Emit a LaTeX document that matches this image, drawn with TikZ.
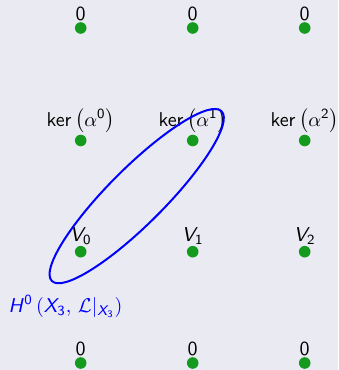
\documentclass[tikz,border=0pt]{standalone}
\usepackage{amsmath}
\usetikzlibrary{calc}
\DeclareMathAlphabet{\mathsfsl}{OT1}{cmss}{m}{sl}
\DeclareMathAlphabet{\mathsfup}{OT1}{cmss}{m}{n}
\definecolor{bgcol}{RGB}{234,234,242}
\definecolor{dotgreen}{RGB}{20,155,30}
\definecolor{ellblue}{RGB}{0,0,255}
\begin{document}
\begin{tikzpicture}[x=0.5pt,y=-0.5pt,
  dot/.style={circle,fill=dotgreen,inner sep=0pt,minimum size=5.8pt},
  lab/.style={anchor=south,inner sep=0.4pt,font=\fontsize{10}{12}\selectfont}]
\fill[bgcol] (0,0) rectangle (338,370);
\useasboundingbox (0,0) rectangle (338,370);
% dots
\node[dot] (a0) at (80.7,28) {};
\node[dot] (a1) at (192.7,28) {};
\node[dot] (a2) at (304.7,28) {};
\node[dot] (b0) at (80.7,140.5) {};
\node[dot] (b1) at (192.7,140.5) {};
\node[dot] (b2) at (304.7,140.5) {};
\node[dot] (c0) at (80.7,251.7) {};
\node[dot] (c1) at (192.7,251.7) {};
\node[dot] (c2) at (304.7,251.7) {};
\node[dot] (d0) at (80.7,363) {};
\node[dot] (d1) at (192.7,363) {};
\node[dot] (d2) at (304.7,363) {};
% labels
\node[lab] (la0) at (a0.north) {$\mathsfup{0}$};
\node[lab] (la1) at (a1.north) {$\mathsfup{0}$};
\node[lab] (la2) at (a2.north) {$\mathsfup{0}$};
\node[lab] (lb0) at (b0.north) {$\mathsfup{ker}\left(\alpha^{\mathsfup{0}}\right)$};
\node[lab] (lb1) at (b1.north) {$\mathsfup{ker}\left(\alpha^{\mathsfup{1}}\right)$};
\node[lab] (lb2) at (b2.north) {$\mathsfup{ker}\left(\alpha^{\mathsfup{2}}\right)$};
\node[lab] (lc0) at (c0.north) {$\mathsfsl{V}_{\mathsfup{0}}$};
\node[lab] (lc1) at (c1.north) {$\mathsfsl{V}_{\mathsfup{1}}$};
\node[lab] (lc2) at (c2.north) {$\mathsfsl{V}_{\mathsfup{2}}$};
\node[lab] (ld0) at (d0.north) {$\mathsfup{0}$};
\node[lab] (ld1) at (d1.north) {$\mathsfup{0}$};
\node[lab] (ld2) at (d2.north) {$\mathsfup{0}$};
% ellipse
\coordinate (m) at ($(c0)!0.5!(b1)$);
\draw[ellblue,line width=1pt,rotate around={45:(m)}] (m) ellipse [x radius=60pt, y radius=14pt];
\node[anchor=base,inner sep=0pt,text=ellblue,font=\fontsize{10}{12}\selectfont] (h) at (65.5,312)
  {$\mathsfsl{H}^{\mathsfup{0}}\left(\mathsfsl{X}_{\mathsfup{3}},\,\mathcal{L}|_{\mathsfsl{X}_{\mathsfup{3}}}\right)$};
\end{tikzpicture}
\end{document}
